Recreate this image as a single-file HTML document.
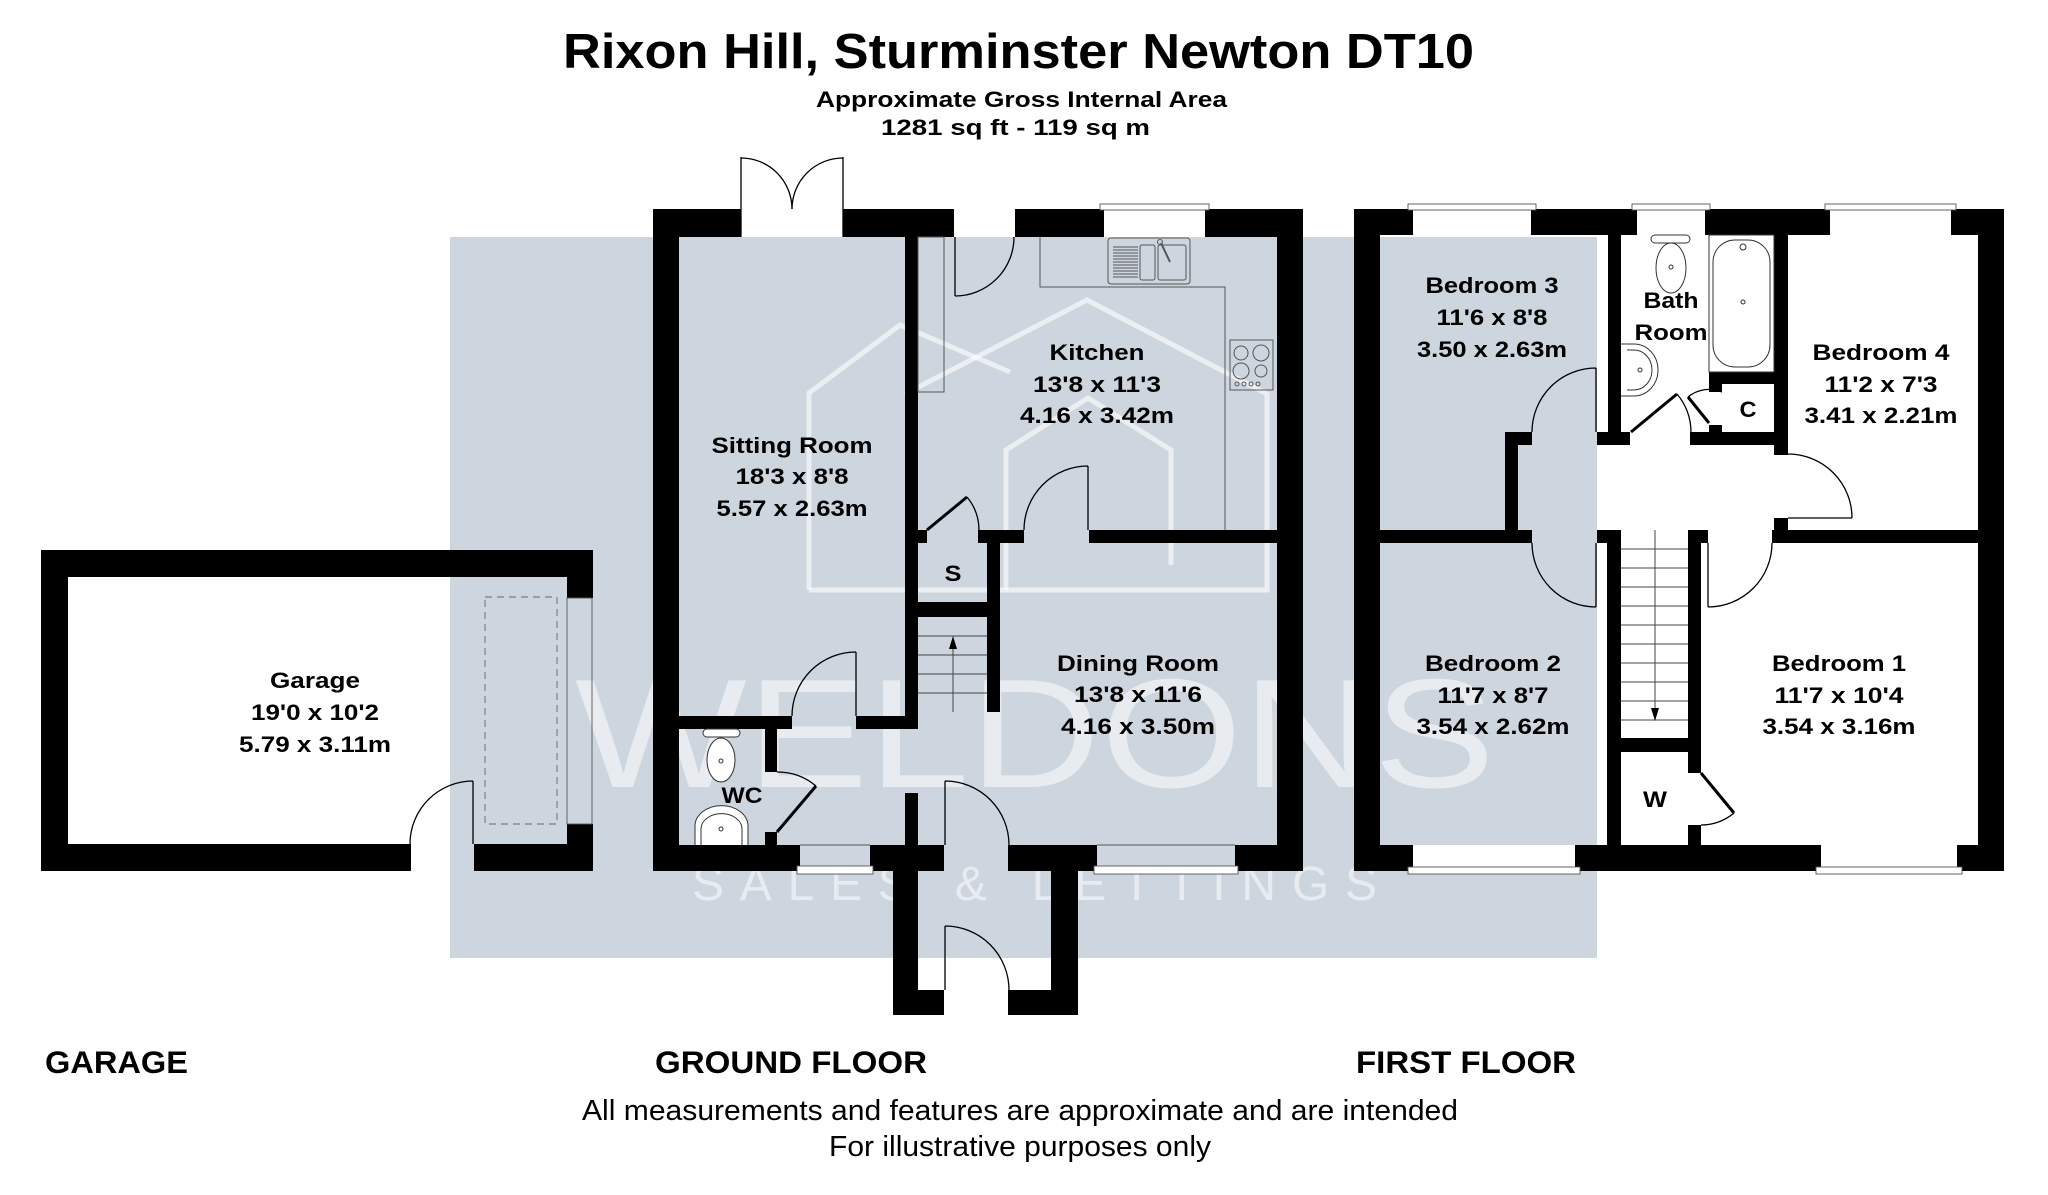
<!DOCTYPE html>
<html><head><meta charset="utf-8"><style>
html,body{margin:0;padding:0;background:#fff;}
svg{display:block;}
text{font-family:"Liberation Sans",Arial,sans-serif;}
.b{font-weight:bold;font-size:22px;fill:#000;}
</style></head><body>
<svg width="2048" height="1195" viewBox="0 0 2048 1195" xmlns="http://www.w3.org/2000/svg">
<rect width="2048" height="1195" fill="#fff"/>
<rect x="450" y="237" width="1147" height="721" fill="#cdd6df"/>
<!-- watermark -->
<g stroke="#fff" stroke-opacity="0.6" stroke-width="5" fill="none">
<path d="M809,590 V393 L900,325 L1010,372"/>
<path d="M905,394 L1087,300 L1267,394 V590 H809"/>
<path d="M1006,590 V450 L1088,398 L1171,450 V565"/>
</g>
<text x="575" y="787" font-size="155" textLength="920" lengthAdjust="spacingAndGlyphs" fill="#fff" fill-opacity="0.55" font-weight="normal">WELDONS</text>
<text x="692" y="900" font-size="48" textLength="685" lengthAdjust="spacing" fill="#fff" fill-opacity="0.55">SALES &amp; LETTINGS</text>

<!-- walls -->
<g fill="#000">
<!-- garage -->
<rect x="41" y="550" width="552" height="27"/>
<rect x="41" y="550" width="27" height="321"/>
<rect x="41" y="844" width="370" height="27"/>
<rect x="474" y="844" width="119" height="27"/>
<rect x="567" y="550" width="26" height="48"/>
<rect x="567" y="824" width="26" height="47"/>
<!-- ground floor outer -->
<rect x="653" y="209" width="26" height="662"/>
<rect x="1277" y="209" width="26" height="662"/>
<rect x="653" y="209" width="88" height="28"/>
<rect x="843" y="209" width="111" height="28"/>
<rect x="1015" y="209" width="89" height="28"/>
<rect x="1205" y="209" width="98" height="28"/>
<rect x="653" y="845" width="147" height="26"/>
<rect x="870" y="845" width="74" height="26"/>
<rect x="1008" y="845" width="89" height="26"/>
<rect x="1235" y="845" width="68" height="26"/>
<!-- ground internal -->
<rect x="905" y="237" width="13" height="492"/>
<rect x="856" y="716" width="62" height="13"/>
<rect x="679" y="716" width="113" height="13"/>
<rect x="765" y="729" width="12" height="43"/>
<rect x="765" y="832" width="12" height="13"/>
<rect x="905" y="793" width="13" height="52"/>
<rect x="918" y="530" width="9" height="13"/>
<rect x="978" y="530" width="46" height="13"/>
<rect x="1089" y="530" width="188" height="13"/>
<rect x="987" y="530" width="13" height="182"/>
<rect x="918" y="602" width="82" height="15"/>
<!-- porch -->
<rect x="893" y="845" width="25" height="170"/>
<rect x="918" y="990" width="26" height="25"/>
<rect x="1051" y="871" width="27" height="144"/>
<rect x="1008" y="990" width="43" height="25"/>
<!-- first floor outer -->
<rect x="1354" y="209" width="26" height="662"/>
<rect x="1978" y="209" width="26" height="662"/>
<rect x="1354" y="209" width="59" height="26"/>
<rect x="1531" y="209" width="106" height="26"/>
<rect x="1705" y="209" width="125" height="26"/>
<rect x="1951" y="209" width="53" height="26"/>
<rect x="1354" y="845" width="59" height="26"/>
<rect x="1575" y="845" width="246" height="26"/>
<rect x="1957" y="845" width="47" height="26"/>
<!-- first internal -->
<rect x="1608" y="235" width="13" height="197"/>
<rect x="1597" y="432" width="33" height="13"/>
<rect x="1690" y="432" width="84" height="13"/>
<rect x="1774" y="235" width="14" height="220"/>
<rect x="1774" y="518" width="14" height="12"/>
<rect x="1709" y="372" width="65" height="12"/>
<rect x="1709" y="384" width="13" height="8"/>
<rect x="1709" y="425" width="13" height="7"/>
<rect x="1505" y="432" width="27" height="13"/>
<rect x="1505" y="445" width="13" height="98"/>
<rect x="1380" y="530" width="152" height="13"/>
<rect x="1597" y="530" width="24" height="13"/>
<rect x="1607" y="543" width="14" height="302"/>
<rect x="1688" y="530" width="20" height="13"/>
<rect x="1688" y="543" width="13" height="230"/>
<rect x="1688" y="825" width="13" height="20"/>
<rect x="1772" y="530" width="206" height="13"/>
<rect x="1621" y="738" width="67" height="14"/>
</g>

<!-- windows -->
<g fill="#fff" stroke="#555" stroke-width="0.9">
<rect x="1104" y="209" width="101" height="28" stroke="none"/>
<rect x="1100" y="204" width="109" height="6"/>
<rect x="1413" y="209" width="118" height="26" stroke="none"/>
<rect x="1408" y="204" width="128" height="6"/>
<rect x="1637" y="209" width="68" height="26" stroke="none"/>
<rect x="1632" y="204" width="78" height="6"/>
<rect x="1830" y="209" width="121" height="26" stroke="none"/>
<rect x="1825" y="204" width="131" height="6"/>
<rect x="1413" y="845" width="162" height="26" stroke="none"/>
<rect x="1408" y="867" width="172" height="7"/>
<rect x="1821" y="845" width="136" height="26" stroke="none"/>
<rect x="1816" y="867" width="146" height="7"/>
<rect x="797" y="866" width="76" height="8"/>
<rect x="1094" y="866" width="144" height="8"/>
</g>
<g fill="none" stroke="#555" stroke-width="0.9">
<line x1="800" y1="845" x2="870" y2="845"/>
<line x1="1097" y1="845" x2="1235" y2="845"/>
<rect x="567" y="598" width="25" height="226"/>
<rect x="485" y="597" width="72" height="227" stroke="#666" stroke-dasharray="7,5"/>
</g>

<!-- doors -->
<g fill="none" stroke="#000" stroke-width="1.3">
<path d="M473,844 V781 M473,781 A63,63 0 0 0 410,844"/>
<path d="M741,157 V237 M741,158 A51,51 0 0 1 792,209"/>
<path d="M843,157 V237 M843,158 A51,51 0 0 0 792,209"/>
<path d="M955,237 V296 M955,296 A59,59 0 0 0 1014,237"/>
<path d="M1088,530 V466 M1088,466 A64,64 0 0 0 1024,530"/>
<path d="M967,497 A52,52 0 0 1 979,530"/>
<path d="M856,716 V652 M856,652 A64,64 0 0 0 792,716"/>
<path d="M777,772 A60,60 0 0 1 816,786"/>
<path d="M945,845 V781 M945,781 A64,64 0 0 1 1009,845"/>
<path d="M945,990 V926 M945,926 A64,64 0 0 1 1009,990"/>
<path d="M1596,432 V368 M1596,368 A64,64 0 0 0 1532,432"/>
<path d="M1596,543 V607 M1532,543 A64,64 0 0 0 1596,607"/>
<path d="M1708,543 V607 M1708,607 A64,64 0 0 0 1772,543"/>
<path d="M1788,518 H1852 M1852,518 A64,64 0 0 0 1788,454"/>
<path d="M1677,394 A60,60 0 0 1 1691,432"/>
<path d="M1688,397 A33,33 0 0 1 1722,392"/>
<path d="M1734,813 A52,52 0 0 1 1701,825"/>
</g>
<g stroke="#000" stroke-width="3" fill="none">
<line x1="927" y1="530" x2="967" y2="497"/>
<line x1="777" y1="832" x2="816" y2="786"/>
<line x1="1631" y1="432" x2="1677" y2="394"/>
<line x1="1709" y1="423" x2="1688" y2="397"/>
<line x1="1701" y1="773" x2="1734" y2="813"/>
</g>

<!-- stairs -->
<g stroke="#444" stroke-width="1" fill="none">
<line x1="918" y1="636" x2="987" y2="636"/>
<line x1="918" y1="655" x2="987" y2="655"/>
<line x1="918" y1="674" x2="987" y2="674"/>
<line x1="918" y1="693" x2="987" y2="693"/>
<line x1="953" y1="712" x2="953" y2="645"/>
<line x1="1621" y1="549" x2="1688" y2="549"/>
<line x1="1621" y1="568" x2="1688" y2="568"/>
<line x1="1621" y1="587" x2="1688" y2="587"/>
<line x1="1621" y1="606" x2="1688" y2="606"/>
<line x1="1621" y1="625" x2="1688" y2="625"/>
<line x1="1621" y1="644" x2="1688" y2="644"/>
<line x1="1621" y1="663" x2="1688" y2="663"/>
<line x1="1621" y1="682" x2="1688" y2="682"/>
<line x1="1621" y1="701" x2="1688" y2="701"/>
<line x1="1621" y1="720" x2="1688" y2="720"/>
<line x1="1655" y1="530" x2="1655" y2="712"/>
</g>
<polygon points="953,636 949,649 957,649" fill="#000"/>
<polygon points="1655,721 1651,708 1659,708" fill="#000"/>

<!-- kitchen fittings -->
<g fill="none" stroke="#555" stroke-width="1">
<rect x="918" y="237" width="26" height="155"/>
<polyline points="1040,237 1040,287 1225,287 1225,530"/>
<rect x="1108" y="238" width="82" height="46" rx="3"/>
<rect x="1140" y="245" width="15" height="35" rx="2"/>
<rect x="1158" y="245" width="28" height="35" rx="2"/>
<rect x="1230" y="340" width="43" height="50"/>
<circle cx="1241" cy="353" r="7"/>
<circle cx="1261" cy="353" r="8"/>
<circle cx="1241" cy="371" r="8"/>
<circle cx="1261" cy="371" r="6"/>
<circle cx="1237" cy="384" r="2"/>
<circle cx="1244" cy="384" r="2"/>
<circle cx="1251" cy="384" r="2"/>
<circle cx="1258" cy="384" r="2"/>
<line x1="1161" y1="243" x2="1170" y2="262" stroke-width="2"/>
<circle cx="1160" cy="242" r="2.5"/>
</g>
<g stroke="#555" stroke-width="1">
<line x1="1113" y1="247" x2="1138" y2="247"/><line x1="1113" y1="250" x2="1138" y2="250"/>
<line x1="1113" y1="253" x2="1138" y2="253"/><line x1="1113" y1="256" x2="1138" y2="256"/>
<line x1="1113" y1="259" x2="1138" y2="259"/><line x1="1113" y1="262" x2="1138" y2="262"/>
<line x1="1113" y1="265" x2="1138" y2="265"/><line x1="1113" y1="268" x2="1138" y2="268"/>
<line x1="1113" y1="271" x2="1138" y2="271"/><line x1="1113" y1="274" x2="1138" y2="274"/>
<line x1="1113" y1="277" x2="1138" y2="277"/>
</g>

<!-- sanitary -->
<g fill="#fff" stroke="#333" stroke-width="1">
<rect x="703" y="729" width="37" height="8" rx="4"/>
<ellipse cx="721" cy="760" rx="14" ry="22"/>
<path d="M695,845 V826 A26,20 0 0 1 748,826 V845"/>
<path d="M701,845 V829 A20,15 0 0 1 742,829 V845"/>
<rect x="1651" y="235" width="39" height="8" rx="4"/>
<ellipse cx="1671" cy="268" rx="15" ry="25"/>
<path d="M1621,344 H1634 A24,26 0 0 1 1634,396 H1621"/>
<path d="M1627,350 H1634 A18,20 0 0 1 1634,390 H1627"/>
<rect x="1709" y="235" width="65" height="137" fill="none"/>
<rect x="1713" y="240" width="57" height="127" rx="22"/>
</g>
<g fill="none" stroke="#333" stroke-width="1">
<circle cx="721" cy="761" r="2"/>
<circle cx="721" cy="829" r="2"/>
<circle cx="1671" cy="267" r="2"/>
<circle cx="1743" cy="302" r="2"/>
<circle cx="1743" cy="247" r="3"/>
<circle cx="1640" cy="370" r="2"/>
</g>

<!-- room labels -->
<g class="b">
<text class="b" x="270" y="688" textLength="90" lengthAdjust="spacingAndGlyphs">Garage</text>
<text class="b" x="251" y="720" textLength="128" lengthAdjust="spacingAndGlyphs">19'0 x 10'2</text>
<text class="b" x="239" y="752" textLength="152" lengthAdjust="spacingAndGlyphs">5.79 x 3.11m</text>

<text class="b" x="711.5" y="453" textLength="161" lengthAdjust="spacingAndGlyphs">Sitting Room</text>
<text class="b" x="735.5" y="484" textLength="113" lengthAdjust="spacingAndGlyphs">18'3 x 8'8</text>
<text class="b" x="716.5" y="516" textLength="151" lengthAdjust="spacingAndGlyphs">5.57 x 2.63m</text>

<text class="b" x="1049.5" y="360" textLength="95" lengthAdjust="spacingAndGlyphs">Kitchen</text>
<text class="b" x="1033" y="392" textLength="128" lengthAdjust="spacingAndGlyphs">13'8 x 11'3</text>
<text class="b" x="1020" y="423" textLength="154" lengthAdjust="spacingAndGlyphs">4.16 x 3.42m</text>

<text class="b" x="1057" y="671" textLength="162" lengthAdjust="spacingAndGlyphs">Dining Room</text>
<text class="b" x="1074" y="702" textLength="128" lengthAdjust="spacingAndGlyphs">13'8 x 11'6</text>
<text class="b" x="1061" y="734" textLength="154" lengthAdjust="spacingAndGlyphs">4.16 x 3.50m</text>

<text class="b" x="944.5" y="581" textLength="17" lengthAdjust="spacingAndGlyphs">S</text>
<text class="b" x="721.5" y="803" textLength="41" lengthAdjust="spacingAndGlyphs">WC</text>

<text class="b" x="1425.5" y="293" textLength="133" lengthAdjust="spacingAndGlyphs">Bedroom 3</text>
<text class="b" x="1436.5" y="325" textLength="111" lengthAdjust="spacingAndGlyphs">11'6 x 8'8</text>
<text class="b" x="1417" y="357" textLength="150" lengthAdjust="spacingAndGlyphs">3.50 x 2.63m</text>

<text class="b" x="1643.5" y="308" textLength="55" lengthAdjust="spacingAndGlyphs">Bath</text>
<text class="b" x="1634.5" y="340" textLength="73" lengthAdjust="spacingAndGlyphs">Room</text>

<text class="b" x="1812.5" y="360" textLength="137" lengthAdjust="spacingAndGlyphs">Bedroom 4</text>
<text class="b" x="1824.5" y="392" textLength="113" lengthAdjust="spacingAndGlyphs">11'2 x 7'3</text>
<text class="b" x="1804.5" y="423" textLength="153" lengthAdjust="spacingAndGlyphs">3.41 x 2.21m</text>

<text class="b" x="1739.5" y="417" textLength="17" lengthAdjust="spacingAndGlyphs">C</text>

<text class="b" x="1425" y="671" textLength="136" lengthAdjust="spacingAndGlyphs">Bedroom 2</text>
<text class="b" x="1437.5" y="703" textLength="111" lengthAdjust="spacingAndGlyphs">11'7 x 8'7</text>
<text class="b" x="1416.5" y="734" textLength="153" lengthAdjust="spacingAndGlyphs">3.54 x 2.62m</text>

<text class="b" x="1772" y="671" textLength="134" lengthAdjust="spacingAndGlyphs">Bedroom 1</text>
<text class="b" x="1774.5" y="703" textLength="129" lengthAdjust="spacingAndGlyphs">11'7 x 10'4</text>
<text class="b" x="1762.5" y="734" textLength="153" lengthAdjust="spacingAndGlyphs">3.54 x 3.16m</text>

<text class="b" x="1643" y="807" textLength="24" lengthAdjust="spacingAndGlyphs">W</text>
</g>

<!-- titles -->
<text x="563" y="68" font-size="49" font-weight="bold" textLength="911" lengthAdjust="spacingAndGlyphs">Rixon Hill, Sturminster Newton DT10</text>
<text x="816" y="107" font-size="22.5" font-weight="bold" textLength="411" lengthAdjust="spacingAndGlyphs">Approximate Gross Internal Area</text>
<text x="881" y="135" font-size="22.5" font-weight="bold" textLength="269" lengthAdjust="spacingAndGlyphs">1281 sq ft - 119 sq m</text>

<text x="45" y="1073" font-size="31.5" font-weight="bold" textLength="143" lengthAdjust="spacingAndGlyphs">GARAGE</text>
<text x="655" y="1073" font-size="31.5" font-weight="bold" textLength="272" lengthAdjust="spacingAndGlyphs">GROUND FLOOR</text>
<text x="1356" y="1073" font-size="31.5" font-weight="bold" textLength="220" lengthAdjust="spacingAndGlyphs">FIRST FLOOR</text>

<text x="582" y="1120" font-size="29" textLength="876" lengthAdjust="spacingAndGlyphs">All measurements and features are approximate and are intended</text>
<text x="829" y="1156" font-size="29" textLength="382" lengthAdjust="spacingAndGlyphs">For illustrative purposes only</text>
</svg>
</body></html>
